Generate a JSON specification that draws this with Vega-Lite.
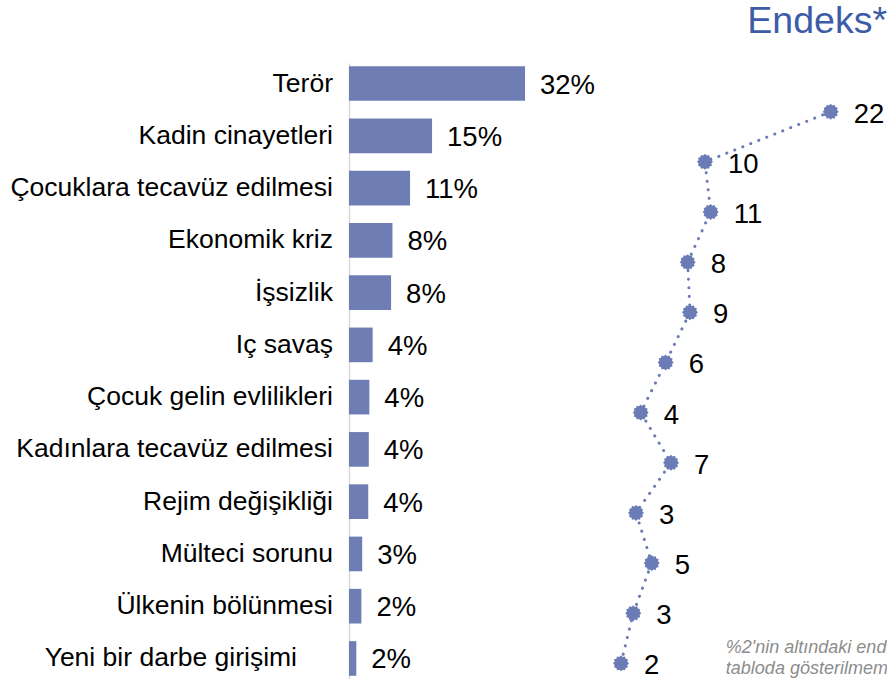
{
  "$schema": "https://vega.github.io/schema/vega-lite/v6.json",
  "width": 538,
  "height": 616,
  "padding": {"left": 0, "top": 3, "right": 0, "bottom": 0},
  "autosize": {"type": "pad"},
  "title": {"text": "Endeks*", "anchor": "end", "frame": "group", "fontSize": 37.5, "font": "Liberation Sans", "fontWeight": "normal", "color": "#3E5BA8", "offset": 22.5},
  "config": {"view": {"stroke": null}, "font": "Liberation Sans"},
  "data": {"values": [
    {"rank": 1, "cat": "Terör", "pct": 32.0, "label": "32%", "idx": 22.0},
    {"rank": 2, "cat": "Kadin cinayetleri", "pct": 15.1, "label": "15%", "idx": 10.01},
    {"rank": 3, "cat": "Çocuklara tecavüz edilmesi", "pct": 11.1, "label": "11%", "idx": 10.55},
    {"rank": 4, "cat": "Ekonomik kriz", "pct": 7.9, "label": "8%", "idx": 8.36},
    {"rank": 5, "cat": "İşsizlik", "pct": 7.65, "label": "8%", "idx": 8.58},
    {"rank": 6, "cat": "Iç savaş", "pct": 4.3, "label": "4%", "idx": 6.26},
    {"rank": 7, "cat": "Çocuk gelin evlilikleri", "pct": 3.7, "label": "4%", "idx": 3.88},
    {"rank": 8, "cat": "Kadınlara tecavüz edilmesi", "pct": 3.6, "label": "4%", "idx": 6.77},
    {"rank": 9, "cat": "Rejim değişikliği", "pct": 3.5, "label": "4%", "idx": 3.43},
    {"rank": 10, "cat": "Mülteci sorunu", "pct": 2.4, "label": "3%", "idx": 4.93},
    {"rank": 11, "cat": "Ülkenin bölünmesi", "pct": 2.25, "label": "2%", "idx": 3.17},
    {"rank": 12, "cat": "Yeni bir darbe girişimi", "pct": 1.33, "label": "2%", "idx": 2.0}
  ]},
  "layer": [
    {
      "encoding": {
        "y": {"field": "cat", "type": "nominal", "sort": {"field": "rank", "op": "min"},
              "scale": {"paddingInner": 0.337, "paddingOuter": 0.0615},
              "axis": {"title": null, "ticks": false, "tickSize": 0, "labels": false, "domainColor": "#D9D9D9", "domainWidth": 1.5, "minExtent": 349, "maxExtent": 349, "grid": false}},
        "x": {"field": "pct", "type": "quantitative", "axis": null, "scale": {"domain": [0, 97.8], "nice": false}}
      },
      "layer": [
        {"mark": {"type": "bar", "color": "#6E7EB5"}},
        {"mark": {"type": "text", "align": "left", "baseline": "middle", "dx": 15, "dy": 2, "fontSize": 27.5, "color": "#000000"},
         "encoding": {"text": {"field": "label"}}},
        {"transform": [{"filter": "datum.rank < 12"}],
         "mark": {"type": "text", "align": "right", "baseline": "middle", "dx": -16, "fontSize": 26.5, "color": "#000000"},
         "encoding": {"x": {"datum": 0}, "text": {"field": "cat"}}},
        {"transform": [{"filter": "datum.rank == 12"}],
         "mark": {"type": "text", "align": "right", "baseline": "middle", "dx": -52, "fontSize": 26.5, "color": "#000000"},
         "encoding": {"x": {"datum": 0}, "text": {"field": "cat"}}}
      ]
    },
    {
      "encoding": {
        "y": {"field": "cat", "type": "nominal", "sort": {"field": "rank", "op": "min"}, "axis": null,
              "scale": {"type": "point", "padding": 0.6416, "align": 0.757}},
        "x": {"field": "idx", "type": "quantitative", "axis": null, "scale": {"domain": [-23.94, 27.37], "nice": false, "zero": false}}
      },
      "layer": [
        {"mark": {"type": "line", "color": "#6A7BB5", "strokeWidth": 3, "strokeDash": [0.1, 8.5], "strokeCap": "round"},
         "encoding": {"order": {"field": "rank"}}},
        {"mark": {"type": "point", "shape": "M1,0L0.792,0.212L0.866,0.5L0.58,0.58L0.5,0.866L0.212,0.792L0,1L-0.212,0.792L-0.5,0.866L-0.58,0.58L-0.866,0.5L-0.792,0.212L-1,0L-0.792,-0.212L-0.866,-0.5L-0.58,-0.58L-0.5,-0.866L-0.212,-0.792L0,-1L0.212,-0.792L0.5,-0.866L0.58,-0.58L0.866,-0.5L0.792,-0.212Z", "filled": true, "size": 256, "color": "#6A7BB5", "opacity": 1}},
        {"mark": {"type": "text", "align": "left", "baseline": "middle", "dx": 23, "dy": 3, "fontSize": 27.5, "color": "#000000"},
         "encoding": {"text": {"field": "idx", "type": "quantitative", "format": ".0f"}}},
        {"transform": [{"filter": "datum.rank == 12"}],
         "mark": {"type": "text", "text": ["%2'nin altındaki endeksler", "tabloda gösterilmemiştir"], "align": "left", "baseline": "alphabetic", "fontStyle": "italic", "fontSize": 18, "color": "#8C8C8C", "lineHeight": 21, "dy": -10},
         "encoding": {"x": {"datum": 12}}}
      ]
    }
  ],
  "resolve": {"scale": {"x": "independent", "y": "independent"}, "axis": {"x": "independent", "y": "independent"}}
}
